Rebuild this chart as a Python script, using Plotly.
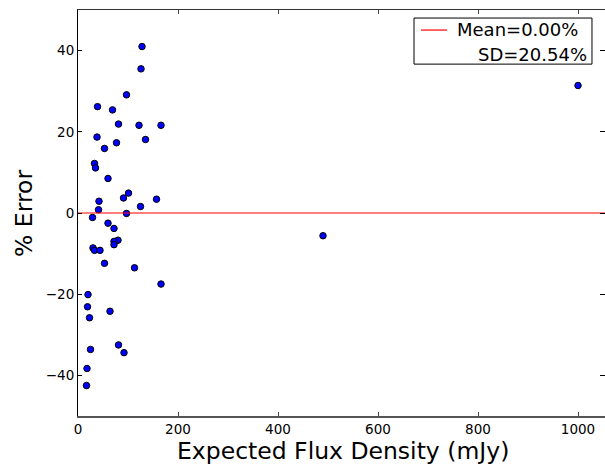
import plotly.graph_objects as go

# Data
expected_flux = [128, 126, 97, 39, 69, 81, 122, 166, 38, 135, 77, 53, 33, 35, 60,
                 101, 91, 157, 42, 125, 41, 97, 29,
                 60, 72, 80, 72, 72, 30, 33, 44, 53, 113, 166, 20, 19, 23, 64,
                 25, 81, 92, 18, 17,
                 490, 1000]
pct_error = [41.0, 35.5, 29.1, 26.2, 25.4, 21.9, 21.6, 21.6, 18.7, 18.1, 17.3, 15.9, 12.2, 11.1, 8.5,
             4.9, 3.7, 3.4, 2.9, 1.6, 0.8, -0.1, -1.1,
             -2.5, -3.8, -6.7, -7.0, -7.8, -8.6, -9.2, -9.2, -12.4, -13.5, -17.5, -20.1, -23.1, -25.8, -24.2,
             -33.6, -32.5, -34.4, -38.3, -42.5,
             -5.6, 31.4]
mean_value = 0.0
sd_value = 20.54
x_ticks = [0, 200, 400, 600, 800, 1000]
y_ticks = [-40, -20, 0, 20, 40]
x_range = [0, 1054]
y_range = [-50, 50]

FONT = "DejaVu Sans"

fig = go.Figure()
fig.add_trace(go.Scatter(
    x=expected_flux, y=pct_error, mode="markers",
    marker=dict(color="#0000ff", size=6.5, line=dict(color="black", width=1)),
    showlegend=False, cliponaxis=False))
fig.add_trace(go.Scatter(
    x=x_range, y=[mean_value, mean_value], mode="lines",
    line=dict(color="#ff0000", width=1.2), showlegend=False))
# helper invisible trace for mirrored axes (top / right ticks)
fig.add_trace(go.Scatter(x=[None], y=[None], xaxis="x2", yaxis="y2",
                         showlegend=False, hoverinfo="skip"))

fig.update_layout(
    width=605, height=466,
    margin=dict(l=78, r=0, t=10, b=50, autoexpand=False),
    paper_bgcolor="white", plot_bgcolor="white",
    font=dict(family=FONT, color="black", size=13.5),
    xaxis=dict(range=x_range, tickvals=x_ticks, ticks="inside", ticklen=4,
               tickcolor="#444", showgrid=False, zeroline=False,
               showline=True, linecolor="#555", linewidth=2,
               tickfont=dict(size=13.5), automargin=False),
    yaxis=dict(range=y_range, tickvals=y_ticks, ticks="inside", ticklen=4,
               tickcolor="black", showgrid=False, zeroline=False,
               showline=True, linecolor="black", linewidth=1,
               tickfont=dict(size=13.5), automargin=False),
    xaxis2=dict(overlaying="x", matches="x", side="top", anchor="y", range=x_range,
                tickvals=x_ticks, ticks="inside", ticklen=4, tickcolor="#444",
                showticklabels=False, showgrid=False, zeroline=False,
                showline=True, linecolor="#333", linewidth=1, automargin=False),
    yaxis2=dict(overlaying="y", matches="y", side="right", anchor="x", range=y_range,
                tickvals=y_ticks, ticks="inside", ticklen=5, tickcolor="black",
                showticklabels=False, showgrid=False, zeroline=False, showline=False,
                automargin=False),
)

# Axis titles
fig.add_annotation(xref="paper", yref="paper", x=0.503, y=-0.0862,
                   xanchor="center", yanchor="middle", showarrow=False,
                   text="Expected Flux Density (mJy)", font=dict(size=23.5, family=FONT))
fig.add_annotation(xref="paper", yref="paper", x=-0.1025, y=0.5,
                   xanchor="center", yanchor="middle", showarrow=False, textangle=-90,
                   text="% Error", font=dict(size=23.5, family=FONT))

# Legend box drawn like matplotlib's
fig.add_shape(type="rect", xref="paper", yref="paper",
              x0=0.6376, x1=0.9753, y0=0.8667, y1=0.9802,
              line=dict(color="black", width=1), fillcolor="white", layer="above")
fig.add_shape(type="line", xref="paper", yref="paper",
              x0=0.6509, x1=0.7002, y0=0.9506, y1=0.9506,
              line=dict(color="#ff0000", width=1.2), layer="above")
fig.add_annotation(xref="paper", yref="paper", x=0.7154, y=0.9530,
                   xanchor="left", yanchor="middle", showarrow=False,
                   text=f"Mean={mean_value:.2f}%", font=dict(size=18, family=FONT))
fig.add_annotation(xref="paper", yref="paper", x=0.9696, y=0.8914,
                   xanchor="right", yanchor="middle", showarrow=False,
                   text=f"SD={sd_value:.2f}%", font=dict(size=18, family=FONT))

fig.write_html("out.html",
               config={"displayModeBar": False},
               post_script="document.body.style.margin='0';document.body.style.overflow='hidden';")
